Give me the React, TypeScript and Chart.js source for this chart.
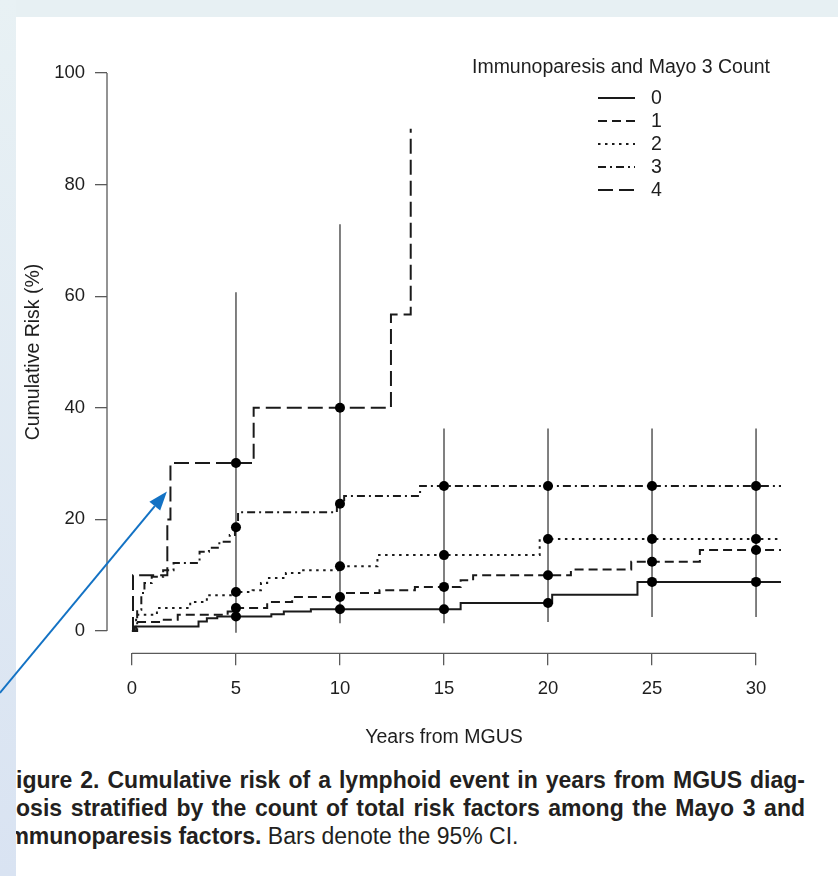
import React, { useEffect, useRef } from "react";
import { Chart, registerables } from "chart.js";

Chart.register(...registerables);

// ---------------- data ----------------
const X_TICKS = [0, 5, 10, 15, 20, 25, 30];
const Y_TICKS = [0, 20, 40, 60, 80, 100];
const GROUP_LABELS = ["0", "1", "2", "3", "4"];
const LEGEND_TITLE = "Immunoparesis and Mayo 3 Count";
const X_TITLE = "Years from MGUS";
const Y_TITLE = "Cumulative Risk (%)";

// step curves: time of change, cumulative risk (%) from that time on
const TIMES_0 = [0, 0.1, 3.2, 3.6, 4.1, 6.7, 7.3, 8.6, 15.8, 20.2, 24.3, 31.6];
const RISK_0 = [0, 0.8, 1.7, 2.3, 2.6, 3.0, 3.5, 3.9, 5.0, 6.5, 8.8, 8.8];
const TIMES_1 = [0, 0.2, 1.4, 2.2, 4.6, 4.9, 6.5, 7.7, 10.1, 11.9, 13.6, 15.8, 16.4, 21.1, 24.0, 27.3, 31.6];
const RISK_1 = [0, 1.6, 2.0, 2.9, 3.5, 4.1, 5.2, 6.1, 6.8, 7.3, 7.9, 9.1, 10.0, 11.0, 12.4, 14.5, 14.5];
const TIMES_2 = [0, 0.2, 1.2, 2.8, 3.6, 4.9, 5.8, 6.2, 6.5, 7.4, 8.1, 9.9, 11.8, 19.6, 31.6];
const RISK_2 = [0, 2.9, 4.1, 5.2, 6.4, 7.0, 7.3, 8.6, 9.5, 10.4, 10.9, 11.6, 13.6, 16.5, 16.5];
const TIMES_3 = [0, 0.25, 0.45, 0.6, 0.95, 1.5, 2.0, 3.25, 3.7, 4.2, 4.7, 4.95, 5.1, 9.85, 10.2, 13.85, 31.6];
const RISK_3 = [0, 3.8, 6.8, 8.6, 9.7, 10.9, 12.2, 14.2, 14.9, 16.0, 17.2, 18.6, 21.3, 22.8, 24.2, 26.0, 26.0];
const TIMES_4 = [0, 0.05, 1.7, 1.85, 5.85, 12.45, 13.4];
const RISK_4 = [0, 10.0, 20.0, 30.1, 40.0, 56.7, 90.0];

// estimates marked at 5-year points
const MARK_TIMES = [5, 10, 15, 20, 25, 30];
const MARK_0 = [2.6, 3.9, 3.9, 5.0, 8.8, 8.8];
const MARK_1 = [4.1, 6.1, 7.9, 10.0, 12.4, 14.5];
const MARK_2 = [7.0, 11.6, 13.6, 16.5, 16.5, 16.5];
const MARK_3 = [18.6, 22.8, 26.0, 26.0, 26.0, 26.0];
const MARK_4 = [30.1, 40.0];

// 95% CI bars (outer envelope) at the marked points
const CI_LOW = [-0.3, 1.4, 1.4, 1.6, 2.5, 2.5];
const CI_HIGH = [60.7, 72.9, 36.3, 36.3, 36.3, 36.3];

// annotation arrow (data coordinates)
const ARROW_FROM = { x: -6.35, y: -11.1 };
const ARROW_TO = { x: 1.68, y: 25.0 };

// ---------------- styles / layout ----------------
const FONT = '"Liberation Sans", Arial, Helvetica, sans-serif';
const INK = "#1e1e1e";
const LINE_COLOR = "#1a1a1a";
const AXIS_COLOR = "#5a5a5a";
const CI_COLOR = "#4a4a4a";
const ARROW_COLOR = "#1372c4";
const LINE_DASH: number[][] = [[], [9, 5], [2.5, 4.5], [8, 4, 2, 4], [15, 6]];

const CANVAS_W = 838;
const CANVAS_H = 760;
const PLOT_LEFT = 107;
const PLOT_RIGHT = 781;
const PLOT_TOP = 50.7;
const PLOT_BOTTOM = 653.3;

const rAxesPlugin = {
  id: "rAxes",
  beforeDatasetsDraw(chart: any) {
    const { ctx, chartArea, scales } = chart;
    const x = scales.x;
    const y = scales.y;
    ctx.save();
    ctx.strokeStyle = AXIS_COLOR;
    ctx.lineWidth = 1.3;
    ctx.beginPath();
    ctx.moveTo(x.getPixelForValue(X_TICKS[0]), chartArea.bottom);
    ctx.lineTo(x.getPixelForValue(X_TICKS[X_TICKS.length - 1]), chartArea.bottom);
    ctx.moveTo(chartArea.left, y.getPixelForValue(Y_TICKS[0]));
    ctx.lineTo(chartArea.left, y.getPixelForValue(Y_TICKS[Y_TICKS.length - 1]));
    ctx.stroke();
    ctx.restore();
  },
};

const legendPlugin = {
  id: "rLegend",
  afterDraw(chart: any) {
    const { ctx } = chart;
    ctx.save();
    ctx.fillStyle = INK;
    ctx.font = `19.5px ${FONT}`;
    ctx.textBaseline = "middle";
    ctx.textAlign = "center";
    ctx.fillText(LEGEND_TITLE, 621, 68);
    GROUP_LABELS.forEach((lab, i) => {
      const yy = 98 + i * 23;
      ctx.strokeStyle = LINE_COLOR;
      ctx.lineWidth = 2;
      ctx.setLineDash(LINE_DASH[i]);
      ctx.beginPath();
      ctx.moveTo(598, yy);
      ctx.lineTo(635, yy);
      ctx.stroke();
      ctx.setLineDash([]);
      ctx.textAlign = "left";
      ctx.fillText(lab, 651, yy + 1);
    });
    ctx.restore();
  },
};

const arrowPlugin = {
  id: "arrow",
  afterDraw(chart: any) {
    const { ctx, scales } = chart;
    const x0 = scales.x.getPixelForValue(ARROW_FROM.x);
    const y0 = scales.y.getPixelForValue(ARROW_FROM.y);
    const x1 = scales.x.getPixelForValue(ARROW_TO.x);
    const y1 = scales.y.getPixelForValue(ARROW_TO.y);
    const ang = Math.atan2(y1 - y0, x1 - x0);
    const headLen = 19;
    const headHalf = 7;
    const bx = x1 - headLen * Math.cos(ang);
    const by = y1 - headLen * Math.sin(ang);
    ctx.save();
    ctx.strokeStyle = ARROW_COLOR;
    ctx.fillStyle = ARROW_COLOR;
    ctx.lineWidth = 2;
    ctx.beginPath();
    ctx.moveTo(x0, y0);
    ctx.lineTo(bx, by);
    ctx.stroke();
    ctx.beginPath();
    ctx.moveTo(x1, y1);
    ctx.lineTo(bx + headHalf * Math.sin(ang), by - headHalf * Math.cos(ang));
    ctx.lineTo(bx - headHalf * Math.sin(ang), by + headHalf * Math.cos(ang));
    ctx.closePath();
    ctx.fill();
    ctx.restore();
  },
};

function pts(t: number[], v: number[]) {
  return t.map((x, i) => ({ x, y: v[i] }));
}

export default function App() {
  const ref = useRef<HTMLCanvasElement | null>(null);

  useEffect(() => {
    const canvas = ref.current;
    if (!canvas) return;

    const curves = [
      pts(TIMES_0, RISK_0),
      pts(TIMES_1, RISK_1),
      pts(TIMES_2, RISK_2),
      pts(TIMES_3, RISK_3),
      pts(TIMES_4, RISK_4),
    ];
    const marks = [
      pts(MARK_TIMES, MARK_0),
      pts(MARK_TIMES, MARK_1),
      pts(MARK_TIMES, MARK_2),
      pts(MARK_TIMES, MARK_3),
      pts(MARK_TIMES.slice(0, MARK_4.length), MARK_4),
    ];
    const ciData: any[] = [];
    MARK_TIMES.forEach((t, i) => {
      ciData.push({ x: t, y: CI_LOW[i] });
      ciData.push({ x: t, y: CI_HIGH[i] });
      ciData.push({ x: t, y: null });
    });

    const datasets: any[] = [];
    datasets.push({
      label: "95% CI",
      data: ciData,
      borderColor: CI_COLOR,
      borderWidth: 1.4,
      pointRadius: 0,
      spanGaps: false,
      order: 3,
    });
    curves.forEach((d, i) => {
      datasets.push({
        label: GROUP_LABELS[i],
        data: d,
        stepped: true,
        borderColor: LINE_COLOR,
        borderWidth: 2,
        borderDash: LINE_DASH[i],
        borderCapStyle: "butt",
        pointRadius: 0,
        order: 2,
      });
    });
    marks.forEach((d, i) => {
      datasets.push({
        label: GROUP_LABELS[i] + " marks",
        data: d,
        showLine: false,
        pointRadius: 5,
        pointBackgroundColor: "#000",
        pointBorderColor: "#000",
        pointBorderWidth: 0,
        order: 1,
      });
    });

    const chart = new Chart(canvas, {
      type: "line",
      data: { datasets },
      options: {
        animation: false,
        responsive: false,
        devicePixelRatio: 1,
        layout: {
          padding: { left: 0, top: PLOT_TOP, right: CANVAS_W - PLOT_RIGHT, bottom: 0 },
        },
        plugins: {
          legend: { display: false },
          tooltip: { enabled: false },
        },
        scales: {
          x: {
            type: "linear",
            min: -1.2,
            max: 31.2,
            afterBuildTicks: (s: any) => {
              s.ticks = X_TICKS.map((v) => ({ value: v }));
            },
            afterFit: (s: any) => {
              s.height = CANVAS_H - PLOT_BOTTOM;
            },
            border: { display: false },
            grid: {
              drawOnChartArea: false,
              drawTicks: true,
              tickLength: 12,
              color: AXIS_COLOR,
              lineWidth: 1.3,
            },
            ticks: {
              padding: 13,
              color: INK,
              font: { family: FONT, size: 18.5 },
              maxRotation: 0,
              autoSkip: false,
            },
            title: {
              display: true,
              text: X_TITLE,
              color: INK,
              font: { family: FONT, size: 19.5 },
              padding: { top: 0, bottom: 11 },
            },
          },
          y: {
            type: "linear",
            min: -4,
            max: 104,
            afterBuildTicks: (s: any) => {
              s.ticks = Y_TICKS.map((v) => ({ value: v }));
            },
            afterFit: (s: any) => {
              s.width = PLOT_LEFT;
            },
            border: { display: false },
            grid: {
              drawOnChartArea: false,
              drawTicks: true,
              tickLength: 12,
              color: AXIS_COLOR,
              lineWidth: 1.3,
            },
            ticks: {
              padding: 10,
              color: INK,
              font: { family: FONT, size: 18.5 },
              autoSkip: false,
            },
            title: {
              display: true,
              text: Y_TITLE,
              color: INK,
              font: { family: FONT, size: 19.5 },
              padding: { top: 22, bottom: 0 },
            },
          },
        },
      },
      plugins: [rAxesPlugin, legendPlugin, arrowPlugin],
    } as any);

    return () => chart.destroy();
  }, []);

  const captionFont = `bold 23px ${FONT}`;
  return (
    <div
      style={{
        position: "absolute",
        left: 0,
        top: 0,
        width: CANVAS_W,
        height: 876,
        background: "#ffffff",
        overflow: "hidden",
      }}
    >
      <div style={{ position: "absolute", left: 0, top: 0, width: CANVAS_W, height: 17, background: "#e7f0f3" }} />
      <div
        style={{
          position: "absolute",
          left: 0,
          top: 0,
          width: 16,
          height: 876,
          background: "linear-gradient(#e8f1f4, #d9e3f2)",
        }}
      />
      <div
        style={{
          position: "absolute",
          left: 16,
          top: 766,
          width: 822,
          height: 100,
          overflow: "hidden",
        }}
      >
        <div
          style={{
            position: "absolute",
            left: -14,
            top: 0,
            width: 803,
            font: captionFont,
            lineHeight: "28px",
            color: "#231f20",
            whiteSpace: "nowrap",
          }}
        >
          <div style={{ textAlign: "justify", textAlignLast: "justify" as any }}>
            Figure 2. Cumulative risk of a lymphoid event in years from MGUS diag-
          </div>
          <div style={{ textAlign: "justify", textAlignLast: "justify" as any }}>
            nosis stratified by the count of total risk factors among the Mayo 3 and
          </div>
          <div>
            Immunoparesis factors. <span style={{ fontWeight: "normal" }}>Bars denote the 95% CI.</span>
          </div>
        </div>
      </div>
      <canvas
        ref={ref}
        width={CANVAS_W}
        height={CANVAS_H}
        style={{ position: "absolute", left: 0, top: 0, width: CANVAS_W, height: CANVAS_H, display: "block" }}
      />
    </div>
  );
}
